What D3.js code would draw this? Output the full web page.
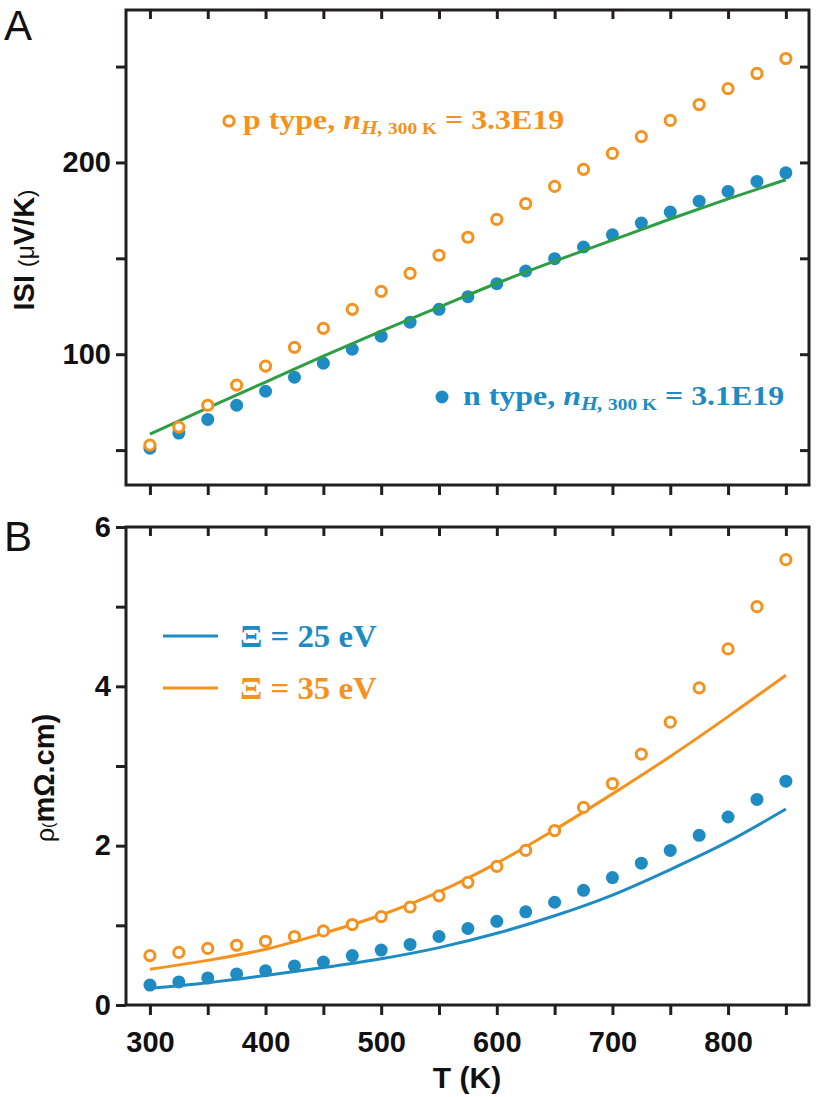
<!DOCTYPE html>
<html>
<head>
<meta charset="utf-8">
<script src="https://cdn.jsdelivr.net/npm/d3@7"></script>
<style>
  html, body { margin: 0; padding: 0; background: #fff; }
  svg { display: block; }
</style>
</head>
<body>
<div id="chart"></div>
<script>
// ---------- DATA ----------
const temps = [300,325,350,375,400,425,450,475,500,525,550,575,600,625,650,675,700,725,750,775,800,825,850];
const seebeckP = [52.6,62,73.4,83.9,93.8,103.6,113.5,123.4,132.8,142.2,151.6,161,170.3,178.6,187.5,196.4,204.7,213.5,221.9,230.2,238.5,246.4,254.2];
const seebeckN = [51,58.9,66,73.4,80.7,88,95.3,102.6,109.4,116.7,123.4,130,136.8,143.4,149.8,155.9,162.3,168.4,174.1,179.8,184.9,190.1,194.6];
const lineT = [300,350,400,450,500,550,600,650,700,750,800,850];
const seebeckModel = [58.3,72,85.5,99,112,124.5,137,148.5,159.5,170.5,181,191];
const rhoP = [0.62,0.66,0.71,0.75,0.80,0.86,0.93,1.01,1.11,1.23,1.37,1.54,1.74,1.94,2.19,2.48,2.78,3.15,3.55,3.98,4.47,5.0,5.59];
const rhoN = [0.25,0.29,0.34,0.39,0.43,0.49,0.54,0.62,0.69,0.76,0.86,0.96,1.05,1.17,1.29,1.44,1.60,1.78,1.94,2.13,2.36,2.58,2.81];
const rho25 = [0.21,0.28,0.37,0.47,0.58,0.72,0.90,1.12,1.38,1.70,2.05,2.46];
const rho35 = [0.45,0.56,0.70,0.90,1.13,1.42,1.78,2.20,2.65,3.12,3.62,4.14];
const xTicks = [300,350,400,450,500,550,600,650,700,750,800,850];
const xTickLabels = [300,400,500,600,700,800];
const yTicksA = [50,100,150,200,250];
const yTickLabelsA = [100,200];
const yTicksB = [0,1,2,3,4,5,6];
const yTickLabelsB = [0,2,4,6];

// ---------- STYLE ----------
const W = 816, H = 1097;
const ORANGE = "#f5921e", BLUE = "#1e8bc3", GREEN = "#2e9e44", INK = "#231f20";
const left = 126, right = 809;
const panelA = {top: 10, bottom: 485};
const panelB = {top: 527, bottom: 1005};

const svg = d3.select("#chart").append("svg").attr("width", W).attr("height", H);

const x = d3.scaleLinear().domain([279.3, 870]).range([left, right]);
const yA = d3.scaleLinear().domain([31.8, 279.5]).range([panelA.bottom, panelA.top]);
const yB = d3.scaleLinear().domain([0, 6]).range([panelB.bottom, panelB.top]);

const tickFont = "'Liberation Sans', Arial, sans-serif";
const serif = "'Liberation Serif', 'Times New Roman', serif";

function styleAxis(g) {
  g.select(".domain").remove();
  g.selectAll(".tick line").attr("stroke", INK).attr("stroke-width", 3);
  g.selectAll(".tick text").attr("font-family", tickFont).attr("font-weight", "bold")
    .attr("font-size", 29).attr("fill", "#111");
}

function drawPanel(p, y, yTicks, yLabels, xLabels, rightTicks) {
  svg.append("g").attr("transform", `translate(0,${p.top})`)
    .call(d3.axisBottom(x).tickValues(xTicks).tickSize(9).tickFormat(""))
    .call(styleAxis);
  svg.append("g").attr("transform", `translate(0,${p.bottom})`)
    .call(d3.axisBottom(x).tickValues(xTicks).tickSize(10).tickPadding(16)
      .tickFormat(d => xLabels && xLabels.includes(d) ? d : ""))
    .call(styleAxis);
  svg.append("g").attr("transform", `translate(${left},0)`)
    .call(d3.axisLeft(y).tickValues(yTicks).tickSize(10).tickPadding(5)
      .tickFormat(d => yLabels.includes(d) ? d : ""))
    .call(styleAxis);
  if (rightTicks) {
    svg.append("g").attr("transform", `translate(${right},0)`)
      .call(d3.axisLeft(y).tickValues(yTicks).tickSize(9).tickFormat(""))
      .call(styleAxis);
  }
  svg.append("rect").attr("x", left).attr("y", p.top)
    .attr("width", right - left).attr("height", p.bottom - p.top)
    .attr("fill", "none").attr("stroke", INK).attr("stroke-width", 3);
}

drawPanel(panelA, yA, yTicksA, yTickLabelsA, null, true);
drawPanel(panelB, yB, yTicksB, yTickLabelsB, xTickLabels, false);

// ---------- Panel A data ----------
const gA = svg.append("g");
gA.selectAll("circle.n").data(temps).join("circle")
  .attr("cx", d => x(d)).attr("cy", (d, i) => yA(seebeckN[i])).attr("r", 6.5).attr("fill", BLUE);
gA.append("path").datum(lineT.map((t, i) => [t, seebeckModel[i]]))
  .attr("d", d3.line().x(d => x(d[0])).y(d => yA(d[1])).curve(d3.curveMonotoneX))
  .attr("fill", "none").attr("stroke", GREEN).attr("stroke-width", 3);
gA.selectAll("circle.p").data(temps).join("circle")
  .attr("cx", d => x(d)).attr("cy", (d, i) => yA(seebeckP[i])).attr("r", 5.1)
  .attr("fill", "#fff").attr("stroke", ORANGE).attr("stroke-width", 3);

// ---------- Panel B data ----------
const gB = svg.append("g");
const lineB = d3.line().x(d => x(d[0])).y(d => yB(d[1])).curve(d3.curveMonotoneX);
gB.append("path").datum(lineT.map((t, i) => [t, rho25[i]])).attr("d", lineB)
  .attr("fill", "none").attr("stroke", BLUE).attr("stroke-width", 3);
gB.append("path").datum(lineT.map((t, i) => [t, rho35[i]])).attr("d", lineB)
  .attr("fill", "none").attr("stroke", ORANGE).attr("stroke-width", 3);
gB.selectAll("circle.n").data(temps).join("circle")
  .attr("cx", d => x(d)).attr("cy", (d, i) => yB(rhoN[i])).attr("r", 6.5).attr("fill", BLUE);
gB.selectAll("circle.p").data(temps).join("circle")
  .attr("cx", d => x(d)).attr("cy", (d, i) => yB(rhoP[i])).attr("r", 5.1)
  .attr("fill", "#fff").attr("stroke", ORANGE).attr("stroke-width", 3);

// ---------- Legends panel A ----------
function typeLegend(tx, ty, color, word, value) {
  const g = svg.append("g").attr("transform", `translate(${tx},${ty}) scale(1.14,1)`);
  const t = g.append("text").attr("font-family", serif).attr("font-weight", "bold")
    .attr("fill", color).attr("font-size", 28);
  t.append("tspan").text(word + " type, ");
  t.append("tspan").attr("font-style", "italic").text("n");
  t.append("tspan").attr("font-style", "italic").attr("font-size", 19).attr("dy", 5).text("H,");
  t.append("tspan").attr("font-size", 17).text(" 300 K");
  t.append("tspan").attr("dy", -5).text(" = " + value);
}
svg.append("circle").attr("cx", 229).attr("cy", 121).attr("r", 5.1)
  .attr("fill", "#fff").attr("stroke", ORANGE).attr("stroke-width", 3);
typeLegend(243, 129, ORANGE, "p", "3.3E19");
svg.append("circle").attr("cx", 442).attr("cy", 397).attr("r", 6.5).attr("fill", BLUE);
typeLegend(463, 405, BLUE, "n", "3.1E19");

// ---------- Legend panel B ----------
const legB = [{label: "\u039E = 25 eV", color: BLUE, y: 636}, {label: "\u039E = 35 eV", color: ORANGE, y: 688}];
legB.forEach(d => {
  svg.append("line").attr("x1", 163).attr("x2", 218).attr("y1", d.y).attr("y2", d.y)
    .attr("stroke", d.color).attr("stroke-width", 3);
  svg.append("g").attr("transform", `translate(240,${d.y + 11}) scale(1.06,1)`)
    .append("text").attr("font-family", serif).attr("font-weight", "bold")
    .attr("font-size", 31).attr("fill", d.color).text(d.label);
});

// ---------- Axis titles & panel letters ----------
svg.append("text").attr("x", 4).attr("y", 40).attr("font-family", tickFont)
  .attr("font-size", 42).attr("fill", "#111").text("A");
svg.append("text").attr("x", 4).attr("y", 551).attr("font-family", tickFont)
  .attr("font-size", 42).attr("fill", "#111").text("B");

const yTitleA = svg.append("text").attr("transform", "translate(34,250) rotate(-90)")
  .attr("text-anchor", "middle").attr("font-family", tickFont).attr("fill", "#111").attr("font-size", 29);
yTitleA.append("tspan").attr("font-weight", "bold").text("ISI ");
yTitleA.append("tspan").attr("font-size", 22).text("(");
yTitleA.append("tspan").attr("font-size", 25).text("\u03BC");
yTitleA.append("tspan").attr("font-weight", "bold").text("V/K");
yTitleA.append("tspan").attr("font-size", 22).text(")");

const yTitleB = svg.append("text").attr("transform", "translate(54,778) rotate(-90)")
  .attr("text-anchor", "middle").attr("font-family", tickFont).attr("fill", "#111").attr("font-size", 29);
yTitleB.append("tspan").attr("font-size", 25).text("\u03C1");
yTitleB.append("tspan").attr("font-size", 16).text("(");
yTitleB.append("tspan").attr("font-weight", "bold").text("m\u03A9.cm)");

svg.append("text").attr("x", 467).attr("y", 1088).attr("text-anchor", "middle")
  .attr("font-family", tickFont).attr("font-weight", "bold").attr("font-size", 30)
  .attr("fill", "#111").text("T (K)");
</script>
</body>
</html>
